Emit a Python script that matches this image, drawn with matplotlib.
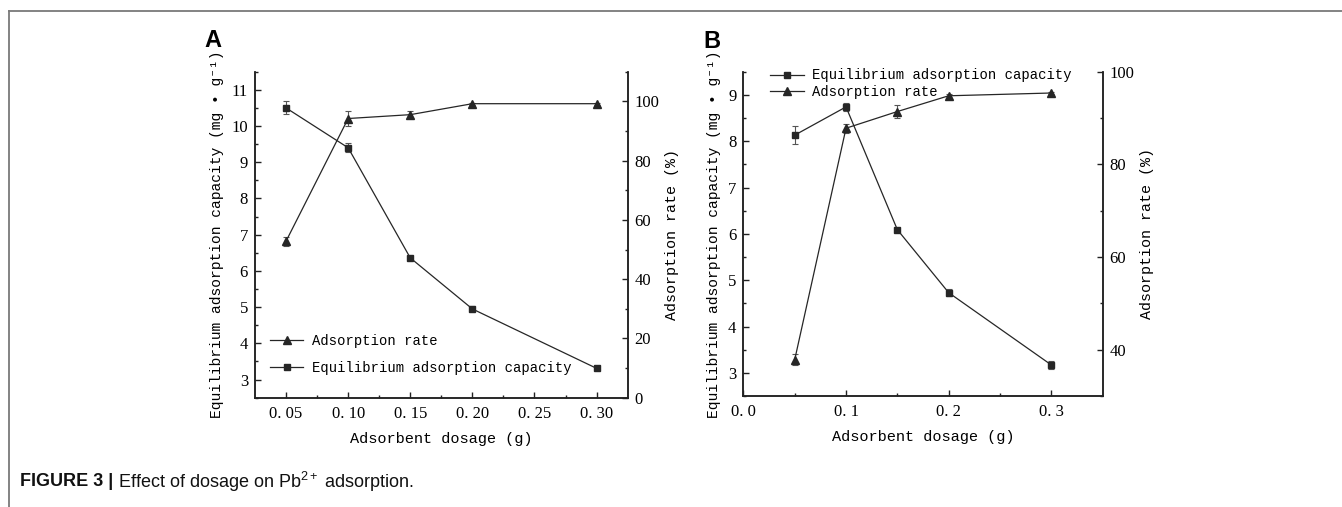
import matplotlib
matplotlib.use("Agg")
import matplotlib.pyplot as plt
from matplotlib.lines import Line2D
from matplotlib.ticker import MultipleLocator, FixedLocator

# ---------------- data ----------------
dosage_a = [0.05, 0.10, 0.15, 0.20, 0.30]
capacity_a = [10.5, 9.4, 6.36, 4.95, 3.31]
capacity_a_err = [0.18, 0.12, 0.05, 0.07, 0.04]
rate_a = [52.8, 94.2, 95.5, 99.2, 99.2]
rate_a_err = [1.5, 2.4, 1.2, 0.4, 0.3]
xticks_a = [0.05, 0.10, 0.15, 0.20, 0.25, 0.30]
xticklabels_a = ["0. 05", "0. 10", "0. 15", "0. 20", "0. 25", "0. 30"]

dosage_b = [0.05, 0.10, 0.15, 0.20, 0.30]
capacity_b = [8.13, 8.74, 6.09, 4.73, 3.17]
capacity_b_err = [0.2, 0.08, 0.03, 0.08, 0.08]
rate_b = [37.8, 87.8, 91.4, 94.8, 95.4]
rate_b_err = [1.2, 1.0, 1.4, 0.4, 0.3]
xticks_b = [0.0, 0.1, 0.2, 0.3]
xticklabels_b = ["0. 0", "0. 1", "0. 2", "0. 3"]

label_cap = "Equilibrium adsorption capacity"
label_rate = "Adsorption rate"
ylabel_left = "Equilibrium adsorption capacity (mg \u2022 g\u207b\u00b9)"
ylabel_right = "Adsorption rate (%)"
xlabel = "Adsorbent dosage (g)"
caption_bold = "FIGURE 3 |"
caption_rest = " Effect of dosage on Pb$^{2+}$ adsorption."

# ---------------- style ----------------
plt.rcParams['mathtext.fontset'] = 'custom'
plt.rcParams['mathtext.rm'] = 'Liberation Sans'
plt.rcParams['mathtext.it'] = 'Liberation Sans'
plt.rcParams['mathtext.bf'] = 'Liberation Sans:bold'

MONO = ['Liberation Mono', 'DejaVu Sans Mono']
SERIF = ['Liberation Serif', 'DejaVu Serif']
LINE_C = '#262626'
ERR_C = '#555555'

fig = plt.figure(figsize=(13.42, 5.07), dpi=100)

def style_axis(ax):
    ax.tick_params(which='both', direction='in', width=1.0, color='#222222')
    ax.tick_params(which='major', length=4)
    ax.tick_params(which='minor', length=2.5)
    for sp in ax.spines.values():
        sp.set_linewidth(1.1)
        sp.set_color('#222222')
    ax.spines['top'].set_visible(False)
    for lab in ax.get_yticklabels() + ax.get_xticklabels():
        lab.set_fontfamily(SERIF)
        lab.set_fontsize(12)

def make_panel(rect, xs, cap, cap_err, rate, rate_err, xlim, ylim_l, ylim_r,
               xticks, xticklabels, xminor, yl_major, yl_minor, yr_major, yr_minor,
               legend_order, legend_anchor, legend_spacing, letter, letter_x):
    ax = fig.add_axes(rect)
    ax2 = ax.twinx()
    ax.set_xlim(*xlim)
    ax.set_ylim(*ylim_l)
    ax2.set_ylim(*ylim_r)
    ax.errorbar(xs, cap, yerr=cap_err, fmt='-s', color=LINE_C, lw=0.9, ms=4.8,
                ecolor=ERR_C, elinewidth=0.8, capsize=2.5, capthick=0.8, zorder=3)
    ax2.errorbar(xs, rate, yerr=rate_err, fmt='-^', color=LINE_C, lw=0.9, ms=5.8,
                 ecolor=ERR_C, elinewidth=0.8, capsize=2.5, capthick=0.8, zorder=3)
    ax.set_xticks(xticks)
    ax.set_xticklabels(xticklabels)
    ax.xaxis.set_minor_locator(FixedLocator(xminor))
    ax.yaxis.set_major_locator(MultipleLocator(yl_major))
    ax.yaxis.set_minor_locator(MultipleLocator(yl_minor))
    ax2.yaxis.set_major_locator(MultipleLocator(yr_major))
    ax2.yaxis.set_minor_locator(MultipleLocator(yr_minor))
    style_axis(ax)
    style_axis(ax2)
    ax.tick_params(axis='y', pad=5)
    ax2.tick_params(axis='y', pad=5)
    ax.tick_params(axis='x', pad=6)
    ax.set_xlabel(xlabel, fontfamily=MONO, fontsize=11, labelpad=7)
    ax.set_ylabel(ylabel_left, fontfamily=MONO, fontsize=10.5, labelpad=5)
    ax2.set_ylabel(ylabel_right, fontfamily=MONO, fontsize=10.8, labelpad=4)

    h_cap = Line2D([], [], color=LINE_C, lw=0.9, marker='s', ms=4.8)
    h_rate = Line2D([], [], color=LINE_C, lw=0.9, marker='^', ms=5.8)
    handles = {'cap': (h_cap, label_cap), 'rate': (h_rate, label_rate)}
    hs = [handles[k][0] for k in legend_order]
    ls = [handles[k][1] for k in legend_order]
    ax.legend(hs, ls, loc='upper left', bbox_to_anchor=legend_anchor,
              frameon=False, prop={'family': MONO, 'size': 10},
              handlelength=2.4, handletextpad=0.6, borderpad=0,
              borderaxespad=0, labelspacing=legend_spacing)
    ax.text(letter_x, 1.13, letter, transform=ax.transAxes, fontsize=17,
            fontweight='bold', fontfamily=['Liberation Sans', 'DejaVu Sans'],
            va='top', ha='left')
    return ax, ax2

make_panel([0.190, 0.2156, 0.2777, 0.643], dosage_a, capacity_a, capacity_a_err,
           rate_a, rate_a_err, (0.025, 0.325), (2.5, 11.5), (0, 110),
           xticks_a, xticklabels_a, [0.075, 0.125, 0.175, 0.225, 0.275],
           1, 0.5, 20, 10, ['rate', 'cap'], (0.04, 0.196), 0.95, 'A', -0.135)

make_panel([0.5539, 0.2189, 0.2678, 0.6397], dosage_b, capacity_b, capacity_b_err,
           rate_b, rate_b_err, (0.0, 0.35), (2.5, 9.5), (30, 100),
           xticks_b, xticklabels_b, [0.05, 0.15, 0.25],
           1, 0.5, 20, 10, ['cap', 'rate'], (0.075, 1.01), 0.15, 'B', -0.11)

# frame lines
fig.add_artist(Line2D([0.0067, 1.0], [0.9783, 0.9783], transform=fig.transFigure,
                      color='#7a7a7a', lw=1.3))
fig.add_artist(Line2D([0.0067, 0.0067], [0.9783, 0.0], transform=fig.transFigure,
                      color='#7a7a7a', lw=1.3))

# caption
t1 = fig.text(0.015, 0.05, caption_bold, fontsize=13, fontweight='bold',
              fontfamily=['Liberation Sans', 'DejaVu Sans'], va='center', ha='left',
              color='#111111')
fig.canvas.draw()
bb = t1.get_window_extent()
x_end = bb.x1 / fig.bbox.width
fig.text(x_end, 0.05, caption_rest, fontsize=13,
         fontfamily=['Liberation Sans', 'DejaVu Sans'], va='center', ha='left',
         color='#111111')

fig.savefig('out.png', dpi=100)
